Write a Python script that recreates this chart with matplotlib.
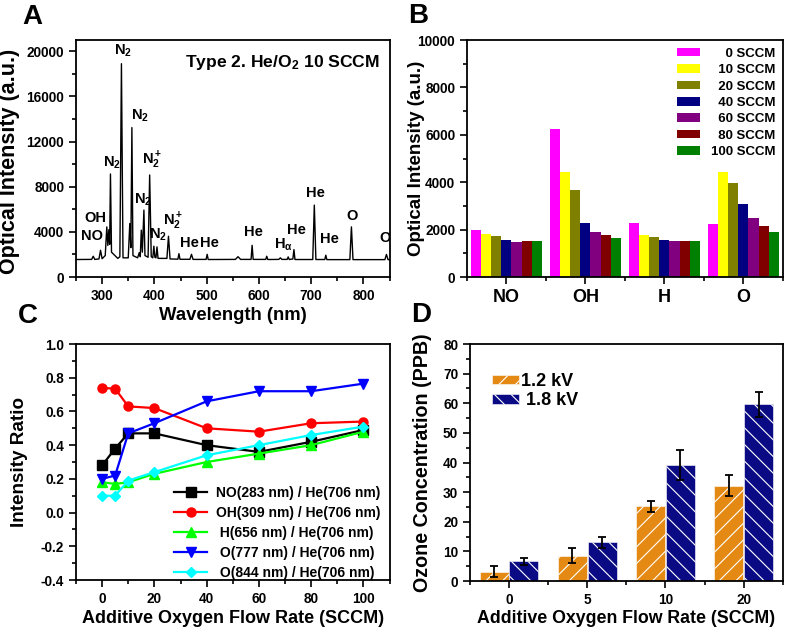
import numpy as np
import matplotlib
matplotlib.use("Agg")
import matplotlib.pyplot as plt
import matplotlib.ticker as ticker

plt.rcParams["font.family"] = ["Liberation Sans", "DejaVu Sans"]
plt.rcParams["font.weight"] = "bold"
plt.rcParams["axes.labelweight"] = "bold"
plt.rcParams["mathtext.fontset"] = "custom"
plt.rcParams["mathtext.rm"] = "Liberation Sans:bold"
plt.rcParams["mathtext.bf"] = "Liberation Sans:bold"
plt.rcParams["mathtext.it"] = "Liberation Sans:bold"
plt.rcParams["mathtext.default"] = "bf"
plt.rcParams["hatch.linewidth"] = 0.8

# ---- panel A: emission spectrum (wavelength nm, counts)
SPECTRUM = [
    (250, 1550), (280, 1560), (283, 1840), (286, 1560), (294, 1600), (297, 2370),
    (300, 1620), (306, 1900), (309, 4440), (311, 2800), (313, 4200), (314.5, 2900),
    (316, 9130), (318, 2200), (330, 1650), (334, 1800), (337, 18900), (340, 1700),
    (350, 1700), (353, 4740), (355, 2600), (357, 13240), (359, 1900), (368, 1700),
    (371, 2160), (373, 1800), (375, 4150), (377, 2200), (380, 5930), (382, 1900),
    (388, 1750), (391, 9040), (394, 1800), (397, 1700), (399, 2730), (401, 1750),
    (403, 1700), (405, 2670), (407, 1650), (424, 1650), (427, 3610), (430, 1600),
    (445, 1580), (447, 2070), (449, 1570), (468, 1570), (471, 2010), (474, 1560),
    (499, 1560), (501, 2010), (503, 1550), (555, 1560), (560, 1800), (565, 1560),
    (585, 1560), (587, 2810), (589, 1560), (613, 1560), (615, 1840), (617, 1550),
    (638, 1560), (641, 1700), (644, 1560), (654, 1560), (656, 1780), (658, 1550),
    (665, 1600), (667, 2430), (669, 1550), (703, 1550), (706, 6370), (709, 1550),
    (726, 1550), (728, 1930), (730, 1540), (774, 1540), (777, 4440), (780, 1540),
    (841, 1540), (844, 2000), (847, 1540), (850, 1540),
]
peak_labels = [
    ("OH", 288, 5240), ("NO", 280, 3640), (r"N$_2$", 318, 10130),
    (r"N$_2$", 340, 20000), (r"N$_2$", 372, 14300), (r"N$_2^+$", 396, 10300),
    (r"N$_2$", 379, 6840), (r"N$_2$", 407, 3700), (r"N$_2^+$", 435, 4900),
    ("He", 467, 3000), ("He", 505, 3000), ("He", 589, 4000),
    (r"H$_\alpha$", 646, 2840), ("He", 671, 4180), ("He", 709, 7470),
    ("He", 734, 3380), ("O", 778, 5420), ("O", 841, 3470),
]

# ---- panel B
species = ["NO", "OH", "H", "O"]
flows_b = ["0", "10", "20", "40", "60", "80", "100"]
intensity_b = [
    [2000, 1830, 1730, 1560, 1470, 1520, 1500],   # NO
    [6230, 4430, 3680, 2280, 1900, 1760, 1630],   # OH
    [2280, 1780, 1700, 1570, 1530, 1530, 1510],   # H
    [2230, 4420, 3960, 3060, 2490, 2140, 1910],   # O
]
colors_b = ["#FF00FF", "#FFFF00", "#808000", "#000080",
            "#800080", "#800000", "#008000"]

# ---- panel C
flow_c = [0, 5, 10, 20, 40, 60, 80, 100]
ratio_no = [0.28, 0.38, 0.47, 0.47, 0.40, 0.36, 0.42, 0.49]
ratio_oh = [0.74, 0.735, 0.63, 0.62, 0.50, 0.48, 0.53, 0.54]
ratio_h = [0.18, 0.17, 0.18, 0.23, 0.30, 0.35, 0.40, 0.48]
ratio_o777 = [0.20, 0.22, 0.47, 0.53, 0.66, 0.72, 0.72, 0.765]
ratio_o844 = [0.10, 0.10, 0.19, 0.24, 0.34, 0.40, 0.46, 0.51]

# ---- panel D
flow_d = ["0", "5", "10", "20"]
ozone_12 = [3.2, 8.6, 25.2, 32.2]
err_12 = [1.8, 2.4, 1.8, 3.6]
ozone_18 = [6.6, 13.1, 39.1, 59.6]
err_18 = [1.3, 1.8, 5.0, 4.3]


def style(ax):
    for s in ax.spines.values():
        s.set_linewidth(1.3)
    ax.tick_params(which="both", direction="out", width=1.2, labelsize=9.8)
    ax.tick_params(which="major", length=5)
    ax.tick_params(which="minor", length=3)


fig = plt.figure(figsize=(7.88, 6.31), dpi=100)
axA = fig.add_axes([0.0964, 0.561, 0.398, 0.3756])
axB = fig.add_axes([0.5926, 0.561, 0.401, 0.3756])
axC = fig.add_axes([0.0964, 0.0808, 0.398, 0.374])
axD = fig.add_axes([0.5964, 0.0792, 0.397, 0.3756])

# A
spec = np.array(SPECTRUM)
axA.plot(spec[:, 0], spec[:, 1], color="black", lw=1.0)
for txt, x, y in peak_labels:
    axA.text(x, y, txt, fontsize=10.5, ha="center", va="center", clip_on=True)
axA.text(0.97, 0.905, r"Type 2. He/O$_2$ 10 SCCM", transform=axA.transAxes,
         ha="right", va="center", fontsize=12.6)
axA.set_xlim(250, 850)
axA.set_ylim(0, 21000)
axA.xaxis.set_minor_locator(ticker.MultipleLocator(50))
axA.yaxis.set_major_locator(ticker.MultipleLocator(4000))
axA.yaxis.set_minor_locator(ticker.MultipleLocator(2000))
axA.set_xticks([300, 400, 500, 600, 700, 800])
axA.set_xlabel("Wavelength (nm)", fontsize=13.3)
axA.xaxis.set_label_coords(0.5, -0.125)
axA.set_ylabel("Optical Intensity (a.u.)", fontsize=15.5)
axA.yaxis.set_label_coords(-0.178, 0.49)
style(axA)

# B
xb = np.arange(1, len(species) + 1)
wb = 0.127
for i, (fl, col) in enumerate(zip(flows_b, colors_b)):
    vals = [row[i] for row in intensity_b]
    pad = " " * (2 * (3 - len(fl)))
    axB.bar(xb + (i - 3) * wb, vals, width=wb, color=col, edgecolor="none",
            label=f"{pad}{fl} SCCM")
axB.set_xlim(0.5, 4.5)
axB.set_ylim(0, 10000)
axB.set_xticks(xb)
axB.set_xticklabels(species)
axB.xaxis.set_minor_locator(ticker.FixedLocator([0.5, 1.5, 2.5, 3.5, 4.5]))
axB.yaxis.set_major_locator(ticker.MultipleLocator(2000))
axB.yaxis.set_minor_locator(ticker.MultipleLocator(1000))
axB.set_ylabel("Optical Intensity (a.u.)", fontsize=13.5)
axB.yaxis.set_label_coords(-0.133, 0.5)
style(axB)
axB.tick_params(axis="x", labelsize=13)
axB.legend(loc="upper right", frameon=False, fontsize=9.5, handlelength=1.75,
           handleheight=0.6, labelspacing=0.33, handletextpad=0.8,
           borderaxespad=0.2, bbox_to_anchor=(1.0, 1.0))

# C
series_c = [
    (ratio_no, "black", "s", "NO(283 nm) / He(706 nm)"),
    (ratio_oh, "#FF0000", "o", "OH(309 nm) / He(706 nm)"),
    (ratio_h, "#00FF00", "^", " H(656 nm) / He(706 nm)"),
    (ratio_o777, "#0000FF", "v", " O(777 nm) / He(706 nm)"),
    (ratio_o844, "#00FFFF", "D", " O(844 nm) / He(706 nm)"),
]
for vals, col, mk, lab in series_c:
    axC.plot(flow_c, vals, color=col, marker=mk, lw=1.6,
             ms=6.5 if mk != "D" else 5.5, label=lab)
axC.set_xlim(-10, 110)
axC.set_ylim(-0.4, 1.0)
axC.xaxis.set_minor_locator(ticker.MultipleLocator(10))
axC.yaxis.set_major_locator(ticker.MultipleLocator(0.2))
axC.yaxis.set_minor_locator(ticker.MultipleLocator(0.1))
axC.yaxis.set_major_formatter(ticker.FormatStrFormatter("%.1f"))
axC.set_xticks([0, 20, 40, 60, 80, 100])
axC.set_xlabel("Additive Oxygen Flow Rate (SCCM)", fontsize=13)
axC.xaxis.set_label_coords(0.5, -0.125)
axC.set_ylabel("Intensity Ratio", fontsize=13.6)
axC.yaxis.set_label_coords(-0.153, 0.5)
style(axC)
axC.legend(loc="lower right", frameon=False, fontsize=10, handlelength=2.4,
           labelspacing=0.43, handletextpad=0.6, borderaxespad=0.0,
           bbox_to_anchor=(0.988, -0.022))

# D
xd = np.arange(len(flow_d))
wd = 0.37
axD.bar(xd - 0.19, ozone_12, width=wd, color="#E48A14", edgecolor="white",
        linewidth=0.4, hatch="//", label="1.2 kV")
axD.bar(xd + 0.19, ozone_18, width=wd, color="#0A0A84", edgecolor="white",
        linewidth=0.4, hatch="\\\\", label=" 1.8 kV")
axD.errorbar(xd - 0.19, ozone_12, yerr=err_12, fmt="none", ecolor="black",
             elinewidth=1.3, capsize=3, capthick=1.3)
axD.errorbar(xd + 0.19, ozone_18, yerr=err_18, fmt="none", ecolor="black",
             elinewidth=1.3, capsize=3, capthick=1.3)
axD.set_xlim(-0.5, 3.5)
axD.set_ylim(0, 80)
axD.set_xticks(xd)
axD.set_xticklabels(flow_d)
axD.xaxis.set_minor_locator(ticker.FixedLocator([-0.5, 0.5, 1.5, 2.5, 3.5]))
axD.yaxis.set_major_locator(ticker.MultipleLocator(10))
axD.yaxis.set_minor_locator(ticker.MultipleLocator(5))
axD.set_xlabel("Additive Oxygen Flow Rate (SCCM)", fontsize=12.8)
axD.xaxis.set_label_coords(0.5, -0.122)
axD.set_ylabel("Ozone Concentration (PPB)", fontsize=14.2)
axD.yaxis.set_label_coords(-0.121, 0.5)
style(axD)
axD.legend(loc="upper left", frameon=False, fontsize=13, handlelength=1.45,
           handleheight=0.4, labelspacing=0.12, handletextpad=0.15,
           bbox_to_anchor=(0.02, 0.945))

# panel letters
for letter, x, y in [("A", 32, 17), ("B", 418, 16), ("C", 28, 316), ("D", 421, 315)]:
    fig.text(x / 788, 1 - y / 631, letter, fontsize=20, ha="center", va="center")

fig.savefig("out.png", dpi=100)
